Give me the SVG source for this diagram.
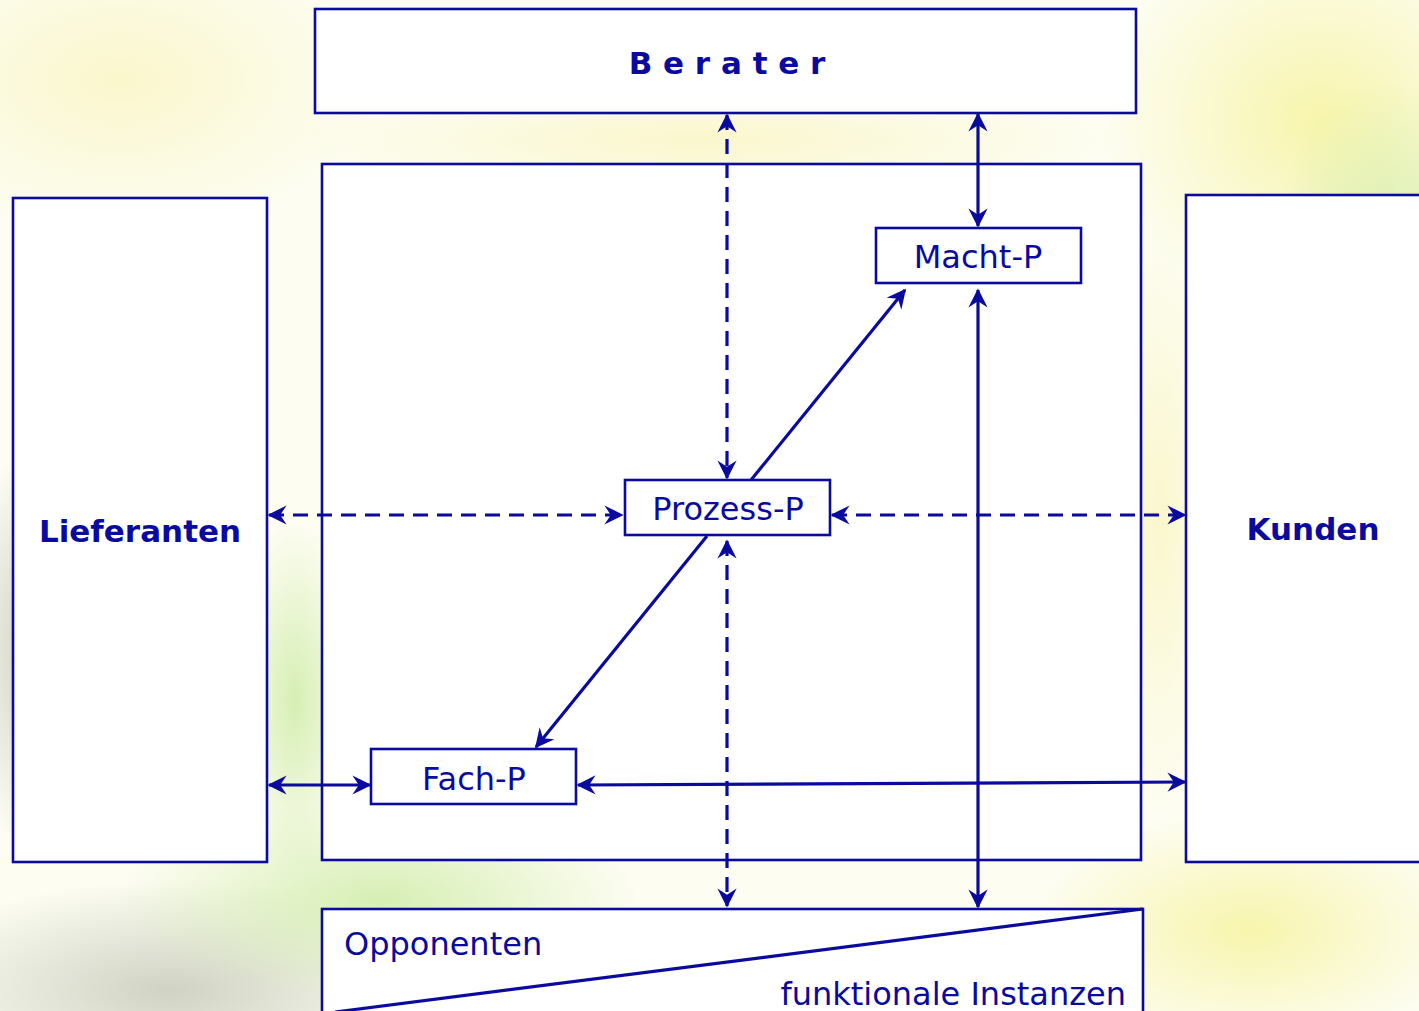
<svg xmlns="http://www.w3.org/2000/svg" width="1419" height="1011" viewBox="0 0 1419 1011">
<defs>
<style>
.box{fill:#ffffff;stroke:#0a0a9e;stroke-width:2.6}
.ln{fill:none;stroke:#0a0a9e;stroke-width:3.2}
.dash{stroke-dasharray:15,9}
.t{font-family:"DejaVu Sans","Verdana",sans-serif;fill:#0a0a9e;font-size:32px}
.b{font-weight:bold;font-size:31px}
</style>
<marker id="ah" viewBox="0 0 12 12" refX="11" refY="6" markerWidth="6" markerHeight="6" orient="auto-start-reverse" markerUnits="strokeWidth">
<path d="M0,0 L12,6 L0,12 L4,6 z" fill="#0a0a9e"/>
</marker>
<radialGradient id="gy" cx="0.5" cy="0.5" r="0.5"><stop offset="0" stop-color="#f6f39a" stop-opacity="0.8"/><stop offset="1" stop-color="#f6f39a" stop-opacity="0"/></radialGradient>
<radialGradient id="gg" cx="0.5" cy="0.5" r="0.5"><stop offset="0" stop-color="#cfeca8" stop-opacity="0.85"/><stop offset="1" stop-color="#cfeca8" stop-opacity="0"/></radialGradient>
<radialGradient id="gr" cx="0.5" cy="0.5" r="0.5"><stop offset="0" stop-color="#c4c8b8" stop-opacity="0.8"/><stop offset="1" stop-color="#c4c8b8" stop-opacity="0"/></radialGradient>
<radialGradient id="gl" cx="0.5" cy="0.5" r="0.5"><stop offset="0" stop-color="#faf6c8" stop-opacity="0.9"/><stop offset="1" stop-color="#faf6c8" stop-opacity="0"/></radialGradient>
</defs>
<g id="background">
<rect x="0" y="0" width="1419" height="1011" fill="#fdfdf2"/>
<ellipse cx="120" cy="80" rx="260" ry="160" fill="url(#gl)"/>
<ellipse cx="1320" cy="120" rx="220" ry="200" fill="url(#gy)"/>
<ellipse cx="1390" cy="260" rx="120" ry="180" fill="url(#gg)"/>
<ellipse cx="700" cy="140" rx="420" ry="60" fill="url(#gl)"/>
<ellipse cx="170" cy="990" rx="280" ry="110" fill="url(#gr)"/>
<ellipse cx="30" cy="650" rx="70" ry="200" fill="url(#gr)"/>
<ellipse cx="380" cy="900" rx="260" ry="100" fill="url(#gg)"/>
<ellipse cx="1250" cy="930" rx="220" ry="120" fill="url(#gy)"/>
<ellipse cx="1160" cy="520" rx="60" ry="300" fill="url(#gl)"/>
<ellipse cx="295" cy="700" rx="60" ry="180" fill="url(#gg)"/>
</g>
<g id="main-area"><rect class="box" x="322" y="164" width="819" height="696"/></g>
<g id="berater"><rect class="box" x="315" y="9" width="821" height="104"/><text class="t b" x="727" y="74" text-anchor="middle" font-size="30">B e r a t e r</text></g>
<g id="lieferanten"><rect class="box" x="13" y="198" width="254" height="664"/><text class="t b" x="140" y="542" text-anchor="middle">Lieferanten</text></g>
<g id="kunden"><rect class="box" x="1186" y="195" width="260" height="667"/><text class="t b" x="1313" y="540" text-anchor="middle">Kunden</text></g>
<g id="macht-p"><rect class="box" x="876" y="228" width="205" height="55"/><text class="t" x="978" y="268" text-anchor="middle">Macht-P</text></g>
<g id="prozess-p"><rect class="box" x="625" y="480" width="205" height="55"/><text class="t" x="728" y="520" text-anchor="middle">Prozess-P</text></g>
<g id="fach-p"><rect class="box" x="371" y="749" width="205" height="55"/><text class="t" x="474" y="790" text-anchor="middle">Fach-P</text></g>
<g id="opponenten"><rect class="box" x="322" y="909" width="821" height="120"/><line class="ln" x1="1143" y1="909" x2="335" y2="1012" stroke-width="2.6"/><text class="t" x="344" y="955">Opponenten</text><text class="t" x="1126" y="1005" text-anchor="end">funktionale Instanzen</text></g>
<g id="connectors">
<line class="ln dash" x1="727" y1="115" x2="727" y2="478" marker-start="url(#ah)" marker-end="url(#ah)"/>
<line class="ln" x1="978" y1="114" x2="978" y2="226" marker-start="url(#ah)" marker-end="url(#ah)"/>
<line class="ln" x1="751" y1="480" x2="905" y2="290" marker-end="url(#ah)"/>
<line class="ln" x1="978" y1="290" x2="978" y2="907" marker-start="url(#ah)" marker-end="url(#ah)"/>
<line class="ln dash" x1="269" y1="515" x2="622" y2="515" marker-start="url(#ah)" marker-end="url(#ah)"/>
<line class="ln dash" x1="832" y1="515" x2="1185" y2="515" marker-start="url(#ah)" marker-end="url(#ah)"/>
<line class="ln" x1="707" y1="536" x2="536" y2="747" marker-end="url(#ah)"/>
<line class="ln dash" x1="727" y1="541" x2="727" y2="906" marker-start="url(#ah)" marker-end="url(#ah)"/>
<line class="ln" x1="269" y1="785" x2="370" y2="785" marker-start="url(#ah)" marker-end="url(#ah)"/>
<line class="ln" x1="578" y1="785" x2="1185" y2="782" marker-start="url(#ah)" marker-end="url(#ah)"/>
</g>
</svg>
